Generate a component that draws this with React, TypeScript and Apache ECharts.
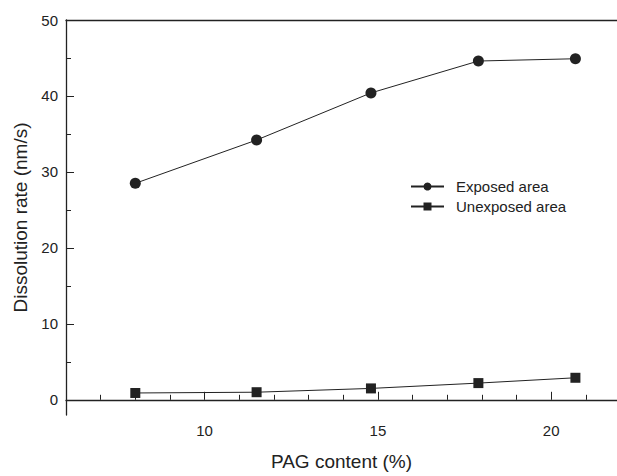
import React, { useEffect, useRef } from "react";
import * as echarts from "echarts";

const xValues = [8.0, 11.5, 14.8, 17.9, 20.7];
const exposedArea = [28.5, 34.2, 40.4, 44.6, 44.9];
const unexposedArea = [0.9, 1.0, 1.5, 2.2, 2.9];
const xMajorTicks = [10, 15, 20];
const xMinorTicks = [7, 8, 9, 11, 12, 13, 14, 16, 17, 18, 19, 21];
const yMajorTicks = [0, 10, 20, 30, 40, 50];
const yMinorTicks = [5, 15, 25, 35, 45];

const INK = "#222222";
const FONT = "'Liberation Sans', Arial, sans-serif";

export default function App() {
  const ref = useRef<HTMLDivElement>(null);
  useEffect(() => {
    if (!ref.current) return;
    const chart = echarts.init(ref.current, undefined, { renderer: "svg" });
    const xBase = { type: "value", min: 6, max: 21.9, splitLine: { show: false } };
    const yBase = { type: "value", min: -2, max: 50, splitLine: { show: false } };
    chart.setOption({
      animation: false,
      backgroundColor: "#ffffff",
      textStyle: { fontFamily: FONT, color: INK },
      grid: { left: 66, top: 20, right: 0, bottom: 58, containLabel: false },
      legend: {
        left: 405,
        top: 174,
        orient: "vertical",
        itemWidth: 33,
        itemHeight: 10,
        itemGap: 5,
        textStyle: { fontSize: 15, color: INK, fontFamily: FONT, padding: [0, 0, 0, 7] },
        data: ["Exposed area", "Unexposed area"],
      },
      xAxis: [
        {
          ...xBase,
          position: "bottom",
          name: "PAG content (%)",
          nameLocation: "middle",
          nameGap: 37,
          nameTextStyle: { fontSize: 19, color: INK, fontFamily: FONT },
          axisLine: { show: true, lineStyle: { color: INK, width: 1.3 } },
          axisTick: { show: true, inside: true, length: 8, customValues: xMajorTicks, lineStyle: { color: INK } },
          axisLabel: { show: true, customValues: xMajorTicks, fontSize: 15, color: INK, margin: 8, fontFamily: FONT },
        },
        {
          ...xBase,
          position: "bottom",
          axisLine: { show: false },
          axisTick: { show: true, inside: true, length: 5, customValues: xMinorTicks, lineStyle: { color: INK } },
          axisLabel: { show: false },
        },
        {
          ...xBase,
          position: "top",
          axisLine: { show: true, lineStyle: { color: INK, width: 1.3 } },
          axisTick: { show: false },
          axisLabel: { show: false },
        },
      ],
      yAxis: [
        {
          ...yBase,
          position: "left",
          name: "Dissolution rate (nm/s)",
          nameLocation: "middle",
          nameGap: 36,
          nameTextStyle: { fontSize: 19, color: INK, fontFamily: FONT },
          axisLine: { show: true, lineStyle: { color: INK, width: 1.3 } },
          axisTick: { show: true, inside: true, length: 8, customValues: yMajorTicks, lineStyle: { color: INK } },
          axisLabel: { show: true, customValues: yMajorTicks, fontSize: 15, color: INK, margin: 8, fontFamily: FONT },
        },
        {
          ...yBase,
          position: "left",
          axisLine: { show: false },
          axisTick: { show: true, inside: true, length: 5, customValues: yMinorTicks, lineStyle: { color: INK } },
          axisLabel: { show: false },
        },
      ],
      series: [
        {
          name: "Exposed area",
          type: "line",
          xAxisIndex: 0,
          yAxisIndex: 0,
          symbol: "circle",
          symbolSize: 11,
          itemStyle: { color: INK },
          lineStyle: { color: INK, width: 1 },
          data: xValues.map((x, i) => [x, exposedArea[i]]),
        },
        {
          name: "Unexposed area",
          type: "line",
          xAxisIndex: 0,
          yAxisIndex: 0,
          symbol: "rect",
          symbolSize: 10,
          itemStyle: { color: INK },
          lineStyle: { color: INK, width: 1 },
          data: xValues.map((x, i) => [x, unexposedArea[i]]),
        },
      ],
    });
    return () => chart.dispose();
  }, []);
  return (
    <div
      ref={ref}
      style={{ position: "fixed", left: 0, top: 0, width: 617, height: 476 }}
    />
  );
}
